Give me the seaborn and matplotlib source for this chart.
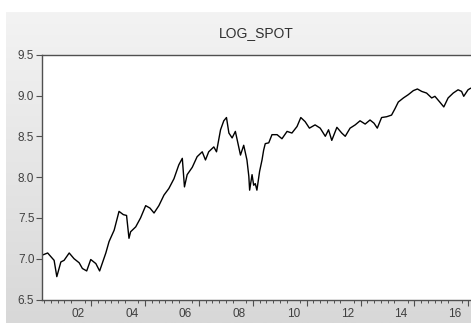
import numpy as np
import pandas as pd
import matplotlib
matplotlib.use("Agg")
import matplotlib.pyplot as plt
import seaborn as sns

# LOG_SPOT series, time in fractional years
years = [
    2001.19, 2001.38, 2001.62, 2001.72, 2001.87, 2001.99, 2002.18, 2002.36,
    2002.55, 2002.67, 2002.83, 2002.98, 2003.17, 2003.31, 2003.54, 2003.66,
    2003.85, 2004.03, 2004.19, 2004.31, 2004.40, 2004.46, 2004.65, 2004.83,
    2005.02, 2005.18, 2005.33, 2005.51, 2005.70, 2005.88, 2006.07, 2006.25,
    2006.38, 2006.46, 2006.56, 2006.75, 2006.93, 2007.12, 2007.24, 2007.36,
    2007.55, 2007.65, 2007.80, 2007.92, 2008.02, 2008.11, 2008.23, 2008.35,
    2008.54, 2008.66, 2008.78, 2008.85, 2008.88, 2008.97, 2009.03, 2009.09,
    2009.15, 2009.25, 2009.34, 2009.40, 2009.46, 2009.59, 2009.71, 2009.90,
    2010.08, 2010.27, 2010.45, 2010.64, 2010.78, 2010.94, 2011.10, 2011.31,
    2011.50, 2011.69, 2011.81, 2011.93, 2012.12, 2012.30, 2012.43, 2012.61,
    2012.80, 2012.98, 2013.17, 2013.35, 2013.50, 2013.62, 2013.78, 2013.97,
    2014.15, 2014.28, 2014.40, 2014.59, 2014.77, 2014.96, 2015.11, 2015.27,
    2015.45, 2015.64, 2015.76, 2015.94, 2016.09, 2016.25, 2016.44, 2016.62,
    2016.75, 2016.83, 2016.99, 2017.09,
]
log_spot = [
    7.045, 7.07, 6.98, 6.78, 6.96, 6.98, 7.07, 7.00,
    6.95, 6.88, 6.85, 6.99, 6.94, 6.85, 7.07, 7.21,
    7.35, 7.58, 7.54, 7.53, 7.25, 7.33, 7.39, 7.50,
    7.65, 7.62, 7.56, 7.65, 7.78, 7.86, 7.98, 8.15,
    8.23, 7.88, 8.03, 8.12, 8.25, 8.31, 8.21, 8.31,
    8.37, 8.31, 8.58, 8.69, 8.73, 8.54, 8.48, 8.56,
    8.27, 8.39, 8.21, 8.01, 7.84, 8.03, 7.90, 7.92,
    7.84, 8.07, 8.21, 8.33, 8.41, 8.42, 8.52, 8.52,
    8.47, 8.56, 8.54, 8.62, 8.73, 8.68, 8.60, 8.64,
    8.60, 8.50, 8.58, 8.45, 8.61, 8.54, 8.50, 8.60,
    8.64, 8.69, 8.65, 8.70, 8.66, 8.60, 8.73, 8.74,
    8.76, 8.84, 8.92, 8.97, 9.01, 9.06, 9.08, 9.05,
    9.03, 8.97, 8.99, 8.92, 8.86, 8.97, 9.03, 9.07,
    9.05, 8.99, 9.07, 9.09,
]

year_labels = ["02", "04", "06", "08", "10", "12", "14", "16"]
label_years = [2002, 2004, 2006, 2008, 2010, 2012, 2014, 2016]
y_ticks = [6.5, 7.0, 7.5, 8.0, 8.5, 9.0, 9.5]

df = pd.DataFrame({"year": years, "LOG_SPOT": log_spot})

sns.set_theme(style="white")
plt.rcParams["font.family"] = ["Liberation Sans", "DejaVu Sans"]

W, H = 471, 323
fig = plt.figure(figsize=(W / 100, H / 100), dpi=100)
fig.patch.set_facecolor("white")

# grey gradient panel behind the chart
bg = fig.add_axes([6 / W, 0, 1 - 6 / W, (H - 12) / H], zorder=-5)
grad = np.linspace(243, 216, 256)[:, None] / 255.0
bg.imshow(np.dstack([grad, grad, grad]), aspect="auto", extent=[0, 1, 0, 1])
bg.set_axis_off()

ax = fig.add_axes([42 / W, (H - 299.5) / H, 1 - 42 / W, (299.5 - 54.7) / H])
ax.set_facecolor("white")

sns.lineplot(data=df, x="year", y="LOG_SPOT", ax=ax, color="black",
             linewidth=1.0, estimator=None, sort=False)

ax.set_xlim(2001.17, 2017.1)
ax.set_ylim(6.5, 9.5)
ax.set_xlabel("")
ax.set_ylabel("")

for side in ["top", "left", "bottom"]:
    ax.spines[side].set_color("#505050")
    ax.spines[side].set_linewidth(1.0)
ax.spines["right"].set_visible(False)

# y axis
ax.set_yticks(y_ticks)
ax.set_yticklabels([f"{v:.1f}" for v in y_ticks])
ax.tick_params(axis="y", direction="out", length=4, width=0.8, color="#505050",
               labelsize=8.5, labelcolor="#404040", pad=1.5, left=True)

# x axis: labels centred on mid-year, quarterly minor ticks
ax.set_xticks([y + 0.5 for y in label_years])
ax.set_xticklabels(year_labels)
ax.set_xticks(np.arange(2001.25, 2017.01, 0.25), minor=True)
ax.tick_params(axis="x", which="major", length=0, labelsize=8.5,
               labelcolor="#404040", pad=6, bottom=True)
ax.tick_params(axis="x", which="minor", direction="out", length=2.5,
               width=0.7, color="#505050", bottom=True)

# longer ticks at the odd-year boundaries
sec = ax.secondary_xaxis("bottom")
sec.set_xticks(np.arange(2003, 2018, 2))
sec.set_xticklabels([])
sec.tick_params(direction="out", length=4, width=0.8, color="#505050")
sec.spines["bottom"].set_visible(False)

ax.set_title("LOG_SPOT", fontsize=10, color="#303030", pad=13)

fig.savefig("out.png", dpi=100)
